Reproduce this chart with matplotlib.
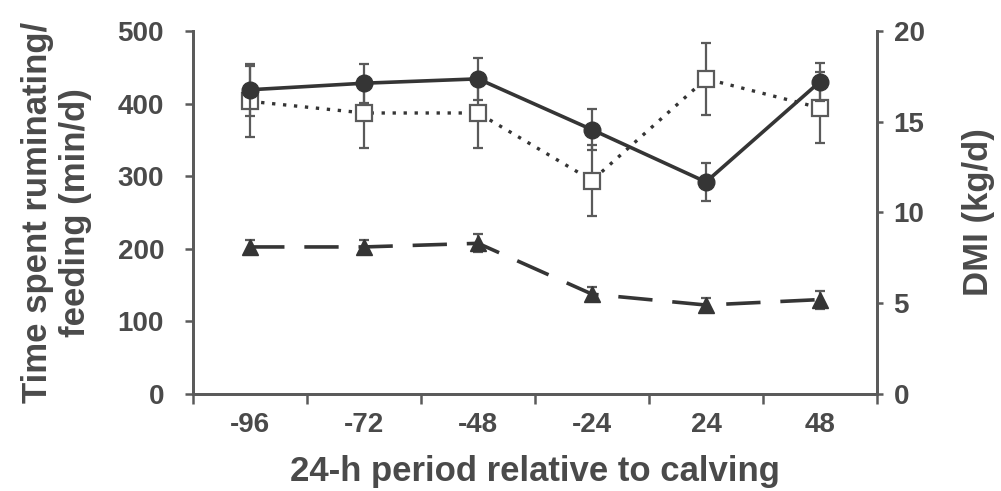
import matplotlib
matplotlib.use("Agg")
import matplotlib.pyplot as plt
import numpy as np

categories = ["-96", "-72", "-48", "-24", "24", "48"]
rumination = [419, 428, 434, 364, 292, 430]
rumination_err = [36, 27, 29, 28, 26, 26]
feeding = [403, 387, 387, 294, 434, 394]
feeding_err = [49, 48, 48, 49, 50, 49]
dmi = [8.1, 8.1, 8.3, 5.5, 4.9, 5.2]
dmi_err = [0.4, 0.4, 0.5, 0.4, 0.4, 0.5]

plt.rcParams['font.family'] = ['Liberation Sans', 'DejaVu Sans']
plt.rcParams['font.weight'] = 'bold'
TXT = '#4a4a4a'
LN = '#353535'
SP = '#5a5a5a'

fig = plt.figure(figsize=(10.01, 4.91), dpi=100)
ax = fig.add_axes([0.193, 0.1976, 0.683, 0.7394])
ax2 = ax.twinx()

x = np.arange(len(categories))

ax.errorbar(x, rumination, yerr=rumination_err, color=LN, lw=2.6, marker='o',
            ms=12, mfc=LN, mec=LN, ecolor=SP, elinewidth=1.6, capsize=3.5,
            capthick=1.6, zorder=4)
ax.errorbar(x, feeding, yerr=feeding_err, color=LN, lw=2.4, ls=(0, (1.0, 2.3)),
            marker='s', ms=11.5, mfc='white', mec=SP, mew=1.6, ecolor=SP,
            elinewidth=1.6, capsize=3.5, capthick=1.6, zorder=3)
ax2.errorbar(x, dmi, yerr=dmi_err, color=LN, lw=2.6, ls=(0, (9.5, 5.5)),
             marker='^', ms=12, mfc=LN, mec=LN, ecolor=SP, elinewidth=1.6,
             capsize=3.5, capthick=1.6, zorder=3)

ax.set_xlim(-0.5, 5.5)
ax.set_ylim(0, 500)
ax2.set_ylim(0, 20)
ax.set_yticks([0, 100, 200, 300, 400, 500])
ax2.set_yticks([0, 5, 10, 15, 20])
ax.set_xticks(x)
ax.set_xticklabels(categories)
ax.set_xticks(np.arange(-0.5, 6, 1.0), minor=True)
ax.tick_params(axis='x', which='major', length=0, pad=13, labelsize=20, labelcolor=TXT)
ax.tick_params(axis='x', which='minor', length=7, width=1.8, color=SP, direction='out')
ax.tick_params(axis='y', length=6, width=1.8, color=SP, labelsize=20, labelcolor=TXT, pad=15)
ax2.tick_params(axis='y', length=4, width=1.8, color=SP, labelsize=20, labelcolor=TXT, pad=8)

for a in (ax, ax2):
    a.spines['top'].set_visible(False)
    for s in ('left', 'right', 'bottom'):
        a.spines[s].set_color(SP)
        a.spines[s].set_linewidth(2)

ax.set_xlabel("24-h period relative to calving", fontsize=25, color=TXT,
              fontweight='bold')
ax.xaxis.set_label_coords(0.5, -0.168)
ax.set_ylabel("Time spent ruminating/\nfeeding (min/d)", fontsize=25, color=TXT,
              fontweight='bold', linespacing=1.2)
ax.yaxis.set_label_coords(-0.148, 0.5)
ax2.set_ylabel("DMI (kg/d)", fontsize=25, color=TXT, fontweight='bold')
ax2.yaxis.set_label_coords(1.124, 0.5)

fig.savefig("out.png", dpi=100)
